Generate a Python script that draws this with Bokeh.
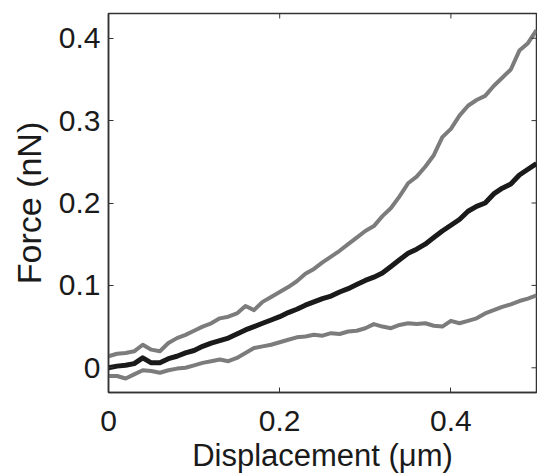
import math
from bokeh.plotting import figure
from bokeh.models import FixedTicker, Range1d, ColumnDataSource
from bokeh.embed import file_html
from bokeh.resources import INLINE

displacement = [round(0.01 * i, 2) for i in range(51)]

force_upper = [0.014, 0.017, 0.018, 0.020, 0.028, 0.022, 0.020, 0.030, 0.036, 0.040,
               0.045, 0.050, 0.054, 0.060, 0.062, 0.066, 0.075, 0.070, 0.080, 0.086,
               0.092, 0.098, 0.105, 0.114, 0.120, 0.128, 0.135, 0.142, 0.150, 0.158,
               0.166, 0.172, 0.184, 0.194, 0.208, 0.224, 0.232, 0.244, 0.258, 0.280,
               0.290, 0.306, 0.318, 0.325, 0.330, 0.342, 0.352, 0.362, 0.385, 0.394,
               0.410]

force_mean = [0.000, 0.002, 0.003, 0.005, 0.012, 0.006, 0.006, 0.011, 0.014, 0.018,
              0.021, 0.026, 0.030, 0.033, 0.036, 0.041, 0.046, 0.050, 0.054, 0.058,
              0.062, 0.067, 0.071, 0.076, 0.080, 0.084, 0.087, 0.092, 0.096, 0.101,
              0.106, 0.110, 0.115, 0.123, 0.131, 0.139, 0.144, 0.150, 0.158, 0.166,
              0.173, 0.180, 0.190, 0.196, 0.200, 0.211, 0.218, 0.223, 0.234, 0.241,
              0.248]

force_lower = [-0.010, -0.010, -0.013, -0.008, -0.003, -0.004, -0.006, -0.003, -0.001, 0.000,
               0.003, 0.006, 0.008, 0.010, 0.008, 0.012, 0.018, 0.024, 0.026, 0.028,
               0.031, 0.034, 0.037, 0.038, 0.040, 0.039, 0.042, 0.041, 0.044, 0.045,
               0.048, 0.053, 0.050, 0.048, 0.052, 0.054, 0.053, 0.054, 0.051, 0.050,
               0.057, 0.054, 0.057, 0.060, 0.066, 0.070, 0.074, 0.077, 0.081, 0.084,
               0.088]

x_ticks = [0, 0.2, 0.4]
x_tick_labels = ["0", "0.2", "0.4"]
y_ticks = [0, 0.1, 0.2, 0.3, 0.4]
y_tick_labels = ["0", "0.1", "0.2", "0.3", "0.4"]

X_MIN, X_MAX = 0.0, 0.5
Y_MIN, Y_MAX = -0.030, 0.430

src = ColumnDataSource(dict(x=displacement, up=force_upper, mean=force_mean, lo=force_lower))

FONT = "Liberation Sans"
AXIS_COLOR = "#333333"

p = figure(width=537, height=475, output_backend="svg", toolbar_location=None,
           x_range=Range1d(X_MIN, X_MAX), y_range=Range1d(Y_MIN, Y_MAX),
           x_axis_label="Displacement (\u03bcm)", y_axis_label="Force (nN)",
           min_border_left=108, min_border_top=13, min_border_right=1, min_border_bottom=82)

p.grid.visible = False
p.background_fill_color = "white"
p.border_fill_color = "white"
p.outline_line_color = AXIS_COLOR
p.outline_line_width = 1.5

p.line("x", "up", source=src, line_color="#7c7c7c", line_width=4, line_join="round")
p.line("x", "lo", source=src, line_color="#7c7c7c", line_width=4, line_join="round")
p.line("x", "mean", source=src, line_color="#1a1a1a", line_width=5, line_join="round")

# mirrored inward ticks on the right and top edges of the box
p.scatter(x=[X_MAX] * len(y_ticks), y=y_ticks, marker="dash", size=10,
          line_color=AXIS_COLOR, line_width=1)
p.scatter(x=x_ticks, y=[Y_MAX] * len(x_ticks), marker="dash", size=10, angle=math.pi / 2,
          line_color=AXIS_COLOR, line_width=1)

for ax, ticks, labels in ((p.xaxis[0], x_ticks, x_tick_labels), (p.yaxis[0], y_ticks, y_tick_labels)):
    ax.ticker = FixedTicker(ticks=ticks)
    ax.major_label_overrides = {t: l for t, l in zip(ticks, labels)}
    ax.major_tick_in = 5
    ax.major_tick_out = 0
    ax.minor_tick_line_color = None
    ax.major_tick_line_color = AXIS_COLOR
    ax.axis_line_color = AXIS_COLOR
    ax.axis_line_width = 1.5
    ax.major_label_text_font = FONT
    ax.major_label_text_font_size = "30px"
    ax.major_label_text_color = "#1a1a1a"
    ax.axis_label_text_font = FONT
    ax.axis_label_text_font_style = "normal"
    ax.axis_label_text_color = "#1a1a1a"

p.xaxis[0].major_label_standoff = 18
p.xaxis[0].axis_label_standoff = 4
p.xaxis[0].axis_label_text_font_size = "31px"
p.yaxis[0].major_label_standoff = 8
p.yaxis[0].axis_label_standoff = 8
p.yaxis[0].axis_label_text_font_size = "34px"

open("out.html", "w").write(file_html(p, INLINE))
